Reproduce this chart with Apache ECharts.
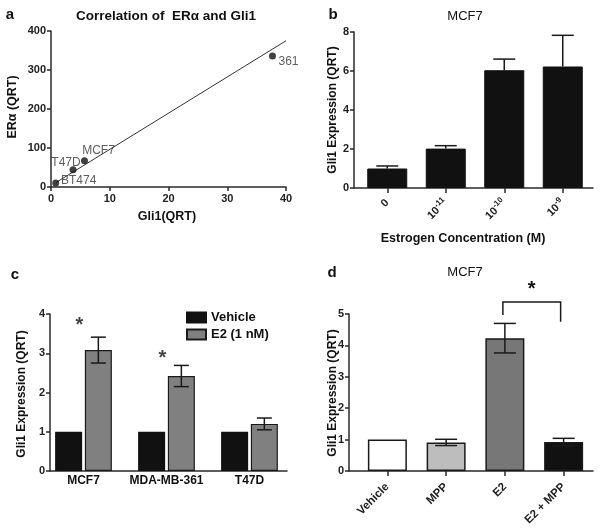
<!DOCTYPE html>
<html><head><meta charset="utf-8">
<script src="https://cdn.jsdelivr.net/npm/echarts@6/dist/echarts.min.js"></script>
<style>html,body{margin:0;padding:0;background:#fff}#c{width:600px;height:529px}</style>
</head><body><div id="c"></div>
<script>
// ---------- Panel a: correlation ----------
const aNames = ['BT474', 'T47D', 'MCF7', '361'];
const aGli1 = [0.8, 3.75, 5.7, 37.7];
const aERa = [10, 44, 67, 336];
const aFitX = [0.8, 40];
const aFitY = [11, 375];
const aXMin = 0, aXMax = 40, aXStep = 10;
const aYMin = 0, aYMax = 400, aYStep = 100;

// ---------- Panel b: MCF7 estrogen dose ----------
const bCats = ['0', '10^-11', '10^-10', '10^-9'];
const bMean = [1.0, 2.02, 6.04, 6.23];
const bErr = [0.13, 0.15, 0.57, 1.6];
const bYMax = 8, bYStep = 2;

// ---------- Panel c: cell lines ----------
const cCats = ['MCF7', 'MDA-MB-361', 'T47D'];
const cVehicle = [1, 1, 1];
const cE2 = [3.08, 2.42, 1.20];
const cE2Err = [0.33, 0.27, 0.15];
const cStars = [[0, 3.80], [1, 2.97]];
const cYMax = 4, cYStep = 1;

// ---------- Panel d: MCF7 + MPP ----------
const dCats = ['Vehicle', 'MPP', 'E2', 'E2 + MPP'];
const dMean = [1.0, 0.91, 4.23, 0.92];
const dErr = [0, 0.10, 0.47, 0.12];
const dBracketFrom = 2, dBracketTo = 3;          // category indices joined by the bracket
const dBracketLegs = [4.97, 4.75];                // bottom of left / right legs
const dBracketTop = 5.38;                         // bracket bar level
const dStarY = 5.9;                               // asterisk level
const dYMax = 5, dYStep = 1;

// ---------- styles ----------
const FONT = '"Liberation Sans", Arial, Helvetica, sans-serif';
const AX = '#2a2a2a';
const dColors = ['#ffffff', '#bdbdbd', '#777777', '#111111'];

const lineStyle = { color: AX, width: 1.5 };
function valY(max, step, show, offset) {
  return {
    type: 'value', min: 0, max: max, interval: step, show: show, offset: offset || 0,
    axisLine: { show: true, lineStyle: lineStyle },
    axisTick: { show: true, length: 4, lineStyle: lineStyle },
    axisLabel: { color: '#222', fontSize: 11, fontWeight: 'bold', fontFamily: FONT, margin: 5 },
    splitLine: { show: false }
  };
}
function frameX() {
  return {
    type: 'value', min: 0, max: 1, axisLine: { show: true, onZero: false, lineStyle: lineStyle },
    axisTick: { show: false }, axisLabel: { show: false }, splitLine: { show: false }
  };
}
function catX(cats, opts) {
  return Object.assign({
    type: 'category', data: cats,
    axisLine: { show: false, onZero: false },
    splitLine: { show: false }
  }, opts);
}
function errSeries(xi, yi, data, off, half, bothCaps) {
  return {
    type: 'custom', xAxisIndex: xi, yAxisIndex: yi, z: 10, silent: true,
    data: data,
    renderItem: function (params, api) {
      const x = api.value(0);
      const pLo = api.coord([x, api.value(1)]);
      const pHi = api.coord([x, api.value(2)]);
      const cx = pLo[0] + off;
      const st = { stroke: '#1a1a1a', lineWidth: 1.5 };
      const ch = [
        { type: 'line', shape: { x1: cx, y1: pLo[1], x2: cx, y2: pHi[1] }, style: st },
        { type: 'line', shape: { x1: cx - half, y1: pHi[1], x2: cx + half, y2: pHi[1] }, style: st }
      ];
      if (bothCaps) ch.push({ type: 'line', shape: { x1: cx - half, y1: pLo[1], x2: cx + half, y2: pLo[1] }, style: st });
      return { type: 'group', children: ch };
    }
  };
}
function txt(x, y, text, size, weight, rot) {
  return {
    type: 'text', x: x, y: y, rotation: rot || 0, silent: true,
    style: {
      text: text, fill: '#111', font: (weight || 'bold') + ' ' + size + 'px ' + FONT,
      align: 'center', verticalAlign: 'middle', textAlign: 'center', textVerticalAlign: 'middle'
    }
  };
}

const aLabelOffset = [[23, -2], [-7, -7], [14, -10], [16, 6]];

const option = {
  animation: false,
  backgroundColor: '#ffffff',
  textStyle: { fontFamily: FONT },
  grid: [
    { left: 51, top: 31, width: 235, height: 156, outerBoundsMode: 'none' },   // a
    { left: 354, top: 32, width: 239, height: 156, outerBoundsMode: 'none' },  // b frame
    { left: 358, top: 32, width: 234, height: 156, outerBoundsMode: 'none' },  // b data
    { left: 50, top: 314, width: 237, height: 157, outerBoundsMode: 'none' },  // c frame
    { left: 42, top: 314, width: 249, height: 157, outerBoundsMode: 'none' },  // c data
    { left: 349, top: 314, width: 244, height: 157, outerBoundsMode: 'none' }, // d frame
    { left: 358, top: 314, width: 235, height: 157, outerBoundsMode: 'none' }  // d data
  ],
  xAxis: [
    {
      gridIndex: 0, type: 'value', min: aXMin, max: aXMax, interval: aXStep,
      axisLine: { show: true, lineStyle: lineStyle },
      axisTick: { show: true, length: 4, lineStyle: lineStyle },
      axisLabel: { color: '#222', fontSize: 11, fontWeight: 'bold', fontFamily: FONT, margin: 6 },
      splitLine: { show: false }
    },
    Object.assign(frameX(), { gridIndex: 1 }),
    catX(bCats, {
      gridIndex: 2,
      axisTick: { show: true, alignWithLabel: true, length: 5, lineStyle: lineStyle },
      axisLabel: {
        interval: 0, rotate: 45, margin: 13, color: '#222', fontSize: 11, fontWeight: 'bold', fontFamily: FONT,
        formatter: function (v) {
          const p = v.split('^');
          return p.length > 1 ? p[0] + '{s|' + p[1] + '}' : v;
        },
        rich: { s: { fontSize: 8, fontWeight: 'bold', fontFamily: FONT, color: '#222', padding: [0, 0, 7, 0] } }
      }
    }),
    Object.assign(frameX(), { gridIndex: 3 }),
    catX(cCats, {
      gridIndex: 4,
      axisTick: { show: false },
      axisLabel: { interval: 0, margin: 4, color: '#111', fontSize: 12, fontWeight: 'bold', fontFamily: FONT }
    }),
    Object.assign(frameX(), { gridIndex: 5 }),
    catX(dCats, {
      gridIndex: 6,
      axisTick: { show: true, alignWithLabel: true, length: 5, lineStyle: lineStyle },
      axisLabel: { interval: 0, rotate: 45, margin: 14, color: '#222', fontSize: 11.5, fontWeight: 'bold', fontFamily: FONT }
    })
  ],
  yAxis: [
    Object.assign(valY(aYMax, aYStep, true), { gridIndex: 0, min: aYMin }),
    Object.assign(valY(bYMax, bYStep, true), { gridIndex: 1 }),
    Object.assign(valY(bYMax, bYStep, false), { gridIndex: 2 }),
    Object.assign(valY(cYMax, cYStep, true), { gridIndex: 3 }),
    Object.assign(valY(cYMax, cYStep, false), { gridIndex: 4 }),
    Object.assign(valY(dYMax, dYStep, true), { gridIndex: 5 }),
    Object.assign(valY(dYMax, dYStep, false), { gridIndex: 6 })
  ],
  legend: {
    data: ['Vehicle', 'E2 (1 nM)'], left: 186, top: 311, padding: 0, orient: 'vertical',
    itemWidth: 19, itemHeight: 10, itemGap: 4, selectedMode: false, icon: 'rect',
    textStyle: { fontSize: 13, fontWeight: 'bold', color: '#111', fontFamily: FONT }
  },
  series: [
    // a
    {
      type: 'line', xAxisIndex: 0, yAxisIndex: 0, symbol: 'none', silent: true,
      data: aFitX.map((x, i) => [x, aFitY[i]]),
      lineStyle: { color: '#333', width: 1 }, z: 2
    },
    {
      type: 'scatter', xAxisIndex: 0, yAxisIndex: 0, symbolSize: 7, z: 3,
      itemStyle: { color: '#111' },
      data: aGli1.map((x, i) => ({ name: aNames[i], value: [x, aERa[i]], label: { offset: aLabelOffset[i] } })),
      label: { show: true, formatter: '{b}', position: 'inside', color: '#333', fontSize: 12, fontFamily: FONT }
    },
    // b
    {
      type: 'bar', name: 'Estrogen', xAxisIndex: 2, yAxisIndex: 2, barWidth: 40,
      data: bMean, itemStyle: { color: '#111', borderColor: '#111', borderWidth: 1 }
    },
    errSeries(2, 2, bMean.map((m, i) => [i, m, m + bErr[i]]), 0, 11, false),
    // c
    {
      type: 'bar', name: 'Vehicle', xAxisIndex: 4, yAxisIndex: 4, barWidth: 27, barGap: '10%',
      data: cVehicle, itemStyle: { color: '#111', borderColor: '#111', borderWidth: 1.2 }
    },
    {
      type: 'bar', name: 'E2 (1 nM)', xAxisIndex: 4, yAxisIndex: 4, barWidth: 27, barGap: '10%',
      data: cE2, itemStyle: { color: '#808080', borderColor: '#1a1a1a', borderWidth: 1.2 }
    },
    errSeries(4, 4, cE2.map((m, i) => [i, m - cE2Err[i], m + cE2Err[i]]), 14.85, 7.5, true),
    {
      type: 'scatter', xAxisIndex: 4, yAxisIndex: 4, symbolSize: 1, silent: true, z: 12,
      itemStyle: { color: 'rgba(0,0,0,0)' }, data: cStars,
      label: { show: true, formatter: '*', position: 'inside', offset: [-4, 4], color: '#111', fontSize: 20, fontWeight: 'bold', fontFamily: FONT }
    },
    // d
    {
      type: 'bar', name: 'MCF7 treatment', xAxisIndex: 6, yAxisIndex: 6, barWidth: 39,
      data: dMean.map((v, i) => ({ value: v, itemStyle: { color: dColors[i] } })),
      itemStyle: { borderColor: '#1a1a1a', borderWidth: 1.5 }
    },
    errSeries(6, 6, dMean.map((m, i) => [i, m - dErr[i], m + dErr[i]]).filter((d, i) => dErr[i] > 0), 0, 11, true),
    {
      type: 'custom', xAxisIndex: 6, yAxisIndex: 6, silent: true, clip: false, z: 12,
      data: [[dBracketFrom, dBracketTo, dBracketLegs[0], dBracketLegs[1], dBracketTop, dStarY]],
      renderItem: function (params, api) {
        const pL0 = api.coord([api.value(0), api.value(2)]);
        const pR0 = api.coord([api.value(1), api.value(3)]);
        const top = api.coord([api.value(0), api.value(4)])[1];
        const starY = api.coord([api.value(0), api.value(5)])[1];
        const xL = pL0[0] - 2, xR = pR0[0] - 3;
        return {
          type: 'group', children: [
            {
              type: 'polyline',
              shape: { points: [[xL, pL0[1]], [xL, top], [xR, top], [xR, pR0[1]]] },
              style: { stroke: '#1a1a1a', lineWidth: 1.5, fill: null }
            },
            {
              type: 'text', x: (xL + xR) / 2, y: starY + 4,
              style: {
                text: '*', fill: '#111', font: 'bold 20px ' + FONT,
                align: 'center', verticalAlign: 'middle', textAlign: 'center', textVerticalAlign: 'middle'
              }
            }
          ]
        };
      }
    }
  ],
  graphic: [
    txt(10, 15, 'a', 15),
    txt(333, 15, 'b', 15),
    txt(15, 275, 'c', 15),
    txt(332, 273, 'd', 15),
    txt(166, 16, 'Correlation of  ER\u03b1 and Gli1', 13.5, 'bold'),
    txt(167, 217, 'Gli1(QRT)', 12.5),
    txt(13, 107, 'ER\u03b1 (QRT)', 12.5, 'bold', Math.PI / 2),
    txt(465, 16, 'MCF7', 13, 'normal'),
    txt(463, 239, 'Estrogen Concentration (M)', 12.5),
    txt(333, 110, 'Gli1 Expression (QRT)', 12, 'bold', Math.PI / 2),
    txt(22, 394, 'Gli1 Expression (QRT)', 12, 'bold', Math.PI / 2),
    txt(465, 272, 'MCF7', 13, 'normal'),
    txt(333, 393, 'Gli1 Expression (QRT)', 12, 'bold', Math.PI / 2)
  ]
};

const chart = echarts.init(document.getElementById('c'), null, { renderer: 'canvas' });
chart.setOption(option);
</script></body></html>
